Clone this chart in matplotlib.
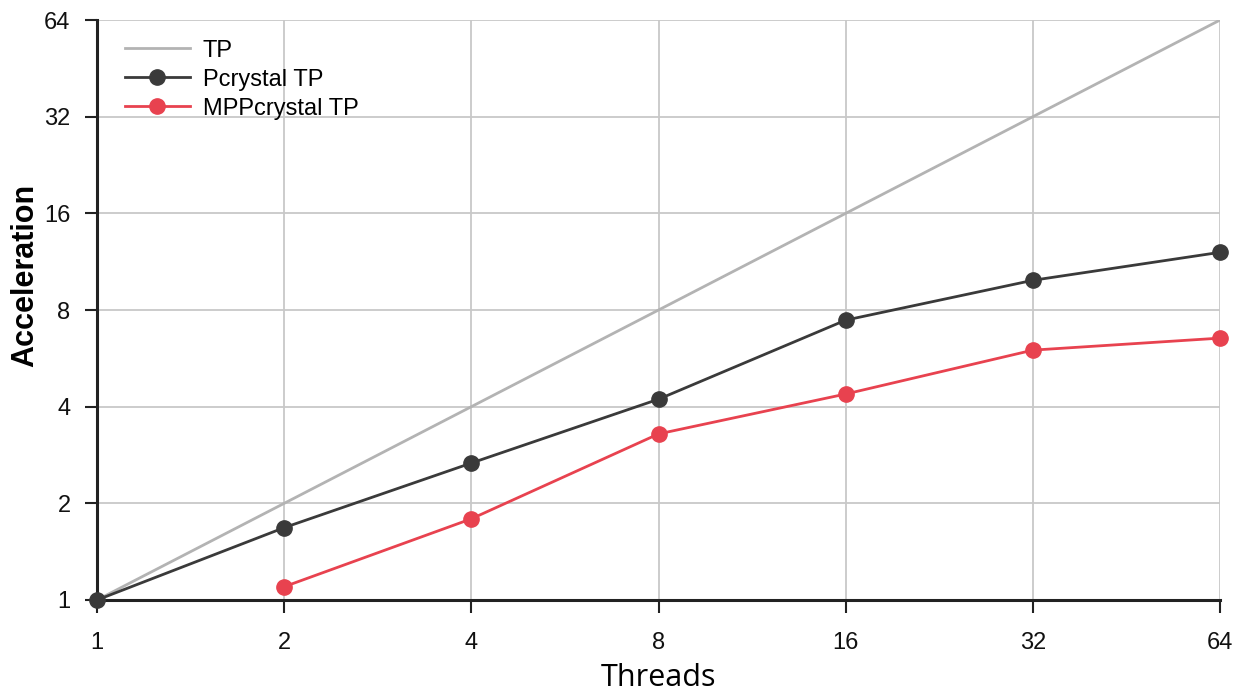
#!/usr/bin/env python3

import matplotlib
matplotlib.use("Agg")
import matplotlib.pyplot as plt
from matplotlib.ticker import FixedLocator, FixedFormatter, NullLocator

# data
threads = [1, 2, 4, 8, 16, 32, 64]
tp = [1, 2, 4, 8, 16, 32, 64]
pcrystal_tp = [1.0, 1.68, 2.67, 4.22, 7.44, 9.9, 12.1]
mpp_threads = [2, 4, 8, 16, 32, 64]
mppcrystal_tp = [1.10, 1.79, 3.29, 4.38, 6.0, 6.54]
tick_values = [1, 2, 4, 8, 16, 32, 64]
tick_labels = ["1", "2", "4", "8", "16", "32", "64"]


def main():
	plt.rcParams['font.family'] = ['Liberation Sans', 'DejaVu Sans']

	fig = plt.figure(figsize=(12.39, 6.91), dpi=100)
	ax = fig.add_axes([0.0783, 0.1317, 0.9064, 0.8393])

	ax.plot(threads, tp, color="#b3b3b3", linewidth=2, label="TP", zorder=3)
	ax.plot(threads, pcrystal_tp, color="#3a3a3a", linewidth=2, marker="o", markersize=11,
			label="Pcrystal TP", zorder=4, clip_on=False)
	ax.plot(mpp_threads, mppcrystal_tp, color="#e8424f", linewidth=2, marker="o", markersize=11,
			label="MPPcrystal TP", zorder=4, clip_on=False)

	ax.set_xscale("log", base=2)
	ax.set_yscale("log", base=2)
	ax.set_xlim(1, 64)
	ax.set_ylim(1, 64)

	for axis in (ax.xaxis, ax.yaxis):
		axis.set_major_locator(FixedLocator(tick_values))
		axis.set_major_formatter(FixedFormatter(tick_labels))
		axis.set_minor_locator(NullLocator())

	ax.grid(True, color="#c8c8c8", linewidth=1.3)
	ax.set_axisbelow(True)
	ax.tick_params(axis="both", labelsize=17, length=9, width=1.5, color="#222222", labelcolor="#111111")
	ax.tick_params(axis="y", pad=10)
	ax.tick_params(axis="x", pad=14)

	for side in ("top", "right"):
		ax.spines[side].set_visible(False)
	for side in ("left", "bottom"):
		ax.spines[side].set_linewidth(2.2)
		ax.spines[side].set_color("#222222")

	ax.set_xlabel("Threads", fontsize=22, family=["Open Sans", "DejaVu Sans"])
	ax.xaxis.set_label_coords(0.5, -0.108)
	ax.set_ylabel("Acceleration", fontsize=22, fontweight="bold")
	ax.yaxis.set_label_coords(-0.051, 0.559)

	ax.legend(loc="upper left", bbox_to_anchor=(0.006, 1.003), frameon=False, fontsize=17,
			  handlelength=2.75, labelspacing=0.3, handletextpad=0.55)

	fig.savefig("out.png", dpi=100)


if __name__ == "__main__":
	main()
